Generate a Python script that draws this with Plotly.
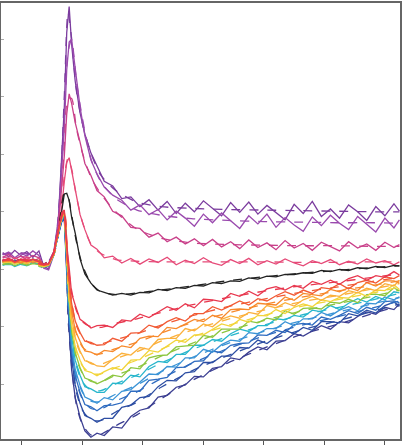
import plotly.graph_objects as go

# time axis of the measured traces (ps) and of the fitted curves
t = [-3.2, -2.2, -1.2, -0.2, 0.8, 1.8, 2.8, 3.6, 4.4, 5.2, 6.0, 6.6, 7.0, 7.4, 7.8, 8.2, 8.8,
     9.6, 10.4, 11.4, 12.4, 13.6, 15.0, 16.5, 18.0, 19.5, 21.0, 22.5, 24.0, 25.5, 27.0, 28.5,
     30.0, 31.5, 33.0, 34.5, 36.0, 37.5, 39.0, 40.5, 42.0, 43.5, 45.0, 46.5, 48.0, 49.5, 51.0,
     52.5, 54.0, 55.5, 57.0, 58.5, 60.0, 61.5, 62.4]
t_fit = [-3.2, 1.0, 3.6, 5.2, 6.2, 7.0, 7.6, 8.2, 9.0, 10.0, 11.4, 13.0, 15.5, 19.0, 23.0,
         28.0, 34.0, 40.0, 46.0, 52.0, 58.0, 62.4]

# measured traces
purple1 = [1.2, 0.5, 1.6, 0.7, 1.4, 0.4, 1.5, -1.2, -1.6, 0.9, 6.8, 17.5, 26.5, 39.5, 44.0, 37.5, 31.0, 25.5, 21.8, 18.5, 16.2,
           13.6, 12.8, 10.6, 10.9, 9.2, 10.4, 8.6, 10.1, 8.0, 9.8, 8.3, 10.2, 8.9, 7.6, 9.9, 8.2, 10.0, 7.9, 9.4, 8.1,
           6.9, 9.6, 8.0, 10.1, 7.5, 8.8, 7.2, 9.5, 8.3, 6.8, 9.2, 7.6, 9.7, 8.4]
purple2 = [0.8, 1.3, 0.3, 1.1, 0.6, 1.5, 0.7, -1.5, -1.8, 0.6, 6.0, 15.5, 23.0, 33.0, 37.8, 38.3, 33.0, 26.5, 21.5, 17.3, 14.9,
           12.6, 11.2, 10.3, 8.6, 9.5, 7.8, 8.7, 6.9, 8.4, 7.2, 5.8, 7.9, 6.4, 8.1, 6.7, 5.4, 7.6, 6.2, 7.9, 5.6,
           7.3, 6.0, 4.9, 7.4, 5.9, 7.7, 6.3, 5.2, 7.5, 6.1, 4.8, 7.2, 5.5, 6.9]
magenta = [0.4, 0.9, 0.1, 0.6, 0.0, 0.7, 0.3, -1.0, -1.2, 0.8, 5.6, 12.3, 18.0, 25.3, 28.8, 27.2, 23.8, 20.4, 16.7, 14.6, 12.0,
           10.9, 8.4, 7.6, 5.6, 5.4, 3.9, 4.6, 3.1, 3.9, 2.7, 3.6, 2.4, 3.5, 2.2, 3.1, 1.9, 3.4, 2.1, 2.9, 1.7,
           3.3, 2.0, 2.8, 1.6, 3.0, 2.2, 1.5, 3.1, 2.0, 2.7, 1.6, 3.0, 2.1, 2.6]
pink = [0.1, -0.4, 0.3, -0.2, 0.4, -0.3, 0.2, -1.0, -1.1, 0.9, 4.6, 9.4, 13.6, 16.9, 17.7, 15.4, 12.4, 7.8, 5.2, 2.5, 1.8,
        0.3, 0.6, -0.6, 0.2, -0.8, 0.1, -0.5, 0.4, -0.9, -0.1, -0.7, 0.3, -0.6, -1.0, 0.0, -0.7, 0.2, -0.9, -0.2, -0.8,
        0.1, -0.6, -1.1, -0.2, -0.7, 0.0, -0.9, -0.3, -0.8, 0.1, -0.6, -0.2, -0.9, -0.4]
black = [-0.2, 0.1, -0.3, 0.0, -0.4, -0.1, -0.2, -0.9, -0.9, 0.8, 4.5, 9.0, 11.4, 11.5, 10.3, 7.4, 4.6, 0.1, -2.5, -4.1, -5.3,
         -5.7, -6.2, -5.9, -6.2, -5.7, -5.8, -5.2, -5.4, -4.9, -5.0, -4.5, -4.6, -4.0, -4.2, -3.7, -3.8, -3.2, -3.4, -2.9, -3.0,
         -2.6, -2.6, -2.3, -2.4, -1.9, -2.1, -1.7, -1.9, -1.4, -1.6, -1.2, -1.4, -1.0, -1.1]
red = [-0.2, 0.2, -0.4, 0.1, -0.3, 0.0, -0.4, -0.9, -0.7, 1.0, 5.0, 8.2, 8.6, 2.6, -1.4, -5.9, -7.9, -10.4, -11.0, -11.9, -11.5,
       -11.4, -11.8, -10.5, -10.7, -9.5, -10.1, -9.1, -8.2, -8.8, -7.7, -8.4, -6.9, -7.0, -7.3, -5.9, -6.4, -5.5, -6.3, -5.1, -4.7,
       -5.3, -4.5, -5.0, -3.8, -4.3, -3.6, -4.3, -3.3, -2.8, -3.6, -2.8, -3.1, -2.1, -2.7]
orange_red = [-0.3, 0.1, -0.5, -0.1, -0.4, 0.1, -0.3, -1.0, -0.8, 0.9, 4.9, 8.0, 8.4, 1.7, -3.4, -7.6, -10.7, -12.7, -14.2, -14.4, -14.9,
              -14.8, -13.7, -14.2, -12.8, -12.7, -11.4, -11.9, -10.8, -10.1, -10.7, -9.4, -9.4, -8.2, -8.8, -8.0, -7.2, -7.9, -6.8, -7.2, -6.3,
              -5.6, -6.2, -5.3, -5.9, -4.9, -5.1, -4.2, -5.1, -4.0, -3.6, -4.1, -3.0, -3.3, -2.8]
orange = [-0.4, 0.0, -0.3, -0.6, -0.1, -0.5, -0.2, -1.0, -0.9, 0.8, 4.7, 7.9, 8.3, 1.1, -4.3, -8.8, -12.3, -14.2, -15.9, -16.1, -16.6,
          -15.8, -16.0, -15.0, -15.3, -13.7, -13.3, -13.4, -11.8, -12.0, -11.2, -10.4, -10.8, -9.7, -10.2, -8.7, -8.6, -8.7, -7.6, -7.8, -7.9,
          -6.5, -7.1, -5.9, -6.1, -6.3, -5.2, -5.6, -4.9, -5.4, -4.0, -4.6, -3.7, -3.7, -4.1]
light_orange = [-0.5, -0.1, -0.6, -0.2, -0.7, -0.3, -0.5, -1.1, -0.9, 0.8, 4.7, 7.8, 8.2, 0.5, -5.2, -10.1, -13.6, -15.9, -17.6, -17.9, -18.5,
                -18.6, -17.4, -16.3, -16.6, -15.3, -15.6, -13.9, -13.7, -13.7, -12.0, -12.4, -11.2, -11.7, -10.4, -9.8, -10.2, -9.2, -9.5, -8.0, -8.4,
                -7.5, -8.1, -7.0, -6.4, -7.1, -6.2, -6.4, -5.4, -5.8, -5.0, -5.4, -4.2, -4.6, -3.6]
yellow = [-0.6, -0.3, -0.8, -0.4, -0.7, -0.2, -0.6, -1.2, -1.0, 0.7, 4.6, 7.7, 8.1, -0.1, -6.1, -11.3, -15.1, -17.5, -19.3, -19.6, -20.2,
          -19.5, -18.8, -19.2, -17.5, -17.4, -15.8, -16.1, -15.0, -14.0, -14.4, -13.1, -13.1, -12.1, -11.2, -11.6, -10.4, -10.9, -9.7, -9.8, -8.7,
          -9.4, -8.3, -7.7, -8.2, -7.0, -7.3, -6.6, -6.7, -5.7, -6.4, -5.3, -5.4, -4.4, -5.2]
green = [-0.9, -0.5, -1.1, -0.6, -1.0, -0.7, -0.9, -1.3, -1.0, 0.7, 4.6, 7.6, 8.0, -0.6, -6.9, -12.3, -16.2, -18.8, -20.6, -21.0, -21.6,
         -21.0, -20.1, -20.4, -18.8, -19.0, -17.1, -16.7, -16.6, -15.2, -15.0, -14.9, -13.2, -13.5, -12.1, -12.1, -12.1, -10.7, -11.0, -10.2, -10.5,
         -8.9, -9.5, -8.5, -8.4, -8.6, -7.4, -7.6, -6.9, -7.5, -6.1, -6.0, -6.3, -4.9, -5.5]
cyan = [-1.0, -0.6, -1.2, -0.8, -1.1, -0.5, -0.9, -1.3, -1.1, 0.6, 4.5, 7.5, 7.9, -1.1, -7.7, -13.4, -17.5, -20.1, -22.1, -22.5, -23.1,
        -23.1, -21.5, -21.6, -20.1, -20.4, -18.6, -17.7, -17.9, -16.5, -16.5, -14.9, -14.9, -13.9, -14.2, -12.9, -12.1, -12.5, -11.5, -11.5, -10.3,
        -10.5, -9.7, -10.0, -8.8, -9.1, -8.0, -8.7, -7.6, -6.8, -7.4, -6.4, -7.0, -5.6, -5.8]
light_blue = [-0.6, -0.2, -0.8, -0.3, -0.7, -0.1, -0.5, -1.1, -0.9, 0.7, 4.4, 7.3, 7.7, -1.8, -8.7, -14.8, -19.1, -21.9, -23.9, -24.4, -25.0,
              -24.0, -24.4, -22.9, -22.6, -21.3, -19.9, -20.0, -18.6, -18.7, -17.1, -17.1, -15.6, -16.1, -14.8, -14.0, -14.2, -12.7, -12.9, -12.0, -12.0,
              -10.8, -11.5, -10.3, -10.3, -9.2, -9.8, -8.8, -8.2, -8.9, -7.6, -7.7, -6.5, -7.0, -6.5]
blue = [-0.4, 0.0, -0.6, -0.2, -0.5, 0.1, -0.4, -1.0, -0.9, 0.7, 4.3, 7.1, 7.5, -2.4, -9.5, -15.8, -20.2, -23.1, -25.2, -25.6, -26.3,
        -25.4, -25.3, -24.9, -22.9, -22.9, -21.0, -20.8, -20.5, -18.8, -18.7, -17.7, -17.6, -15.9, -16.2, -14.9, -14.6, -14.5, -13.1, -13.2, -12.3,
        -12.7, -11.3, -11.1, -11.4, -10.0, -10.4, -9.7, -8.9, -9.4, -8.3, -8.8, -7.3, -7.2, -7.5]
dark_blue = [-0.3, -0.7, -0.1, -0.5, -0.2, -0.6, -0.3, -1.0, -0.8, 0.8, 4.3, 6.9, 7.3, -3.1, -10.6, -17.2, -21.8, -25.0, -27.1, -27.6, -28.3,
             -27.6, -27.6, -25.7, -25.3, -24.0, -23.8, -22.1, -21.0, -21.1, -19.7, -19.5, -17.9, -17.9, -16.8, -16.8, -15.3, -15.4, -14.0, -14.6, -13.4,
             -12.3, -12.9, -11.8, -12.3, -10.8, -10.8, -11.0, -9.4, -9.8, -8.8, -9.3, -8.0, -7.4, -8.1]
indigo = [-0.3, 0.1, -0.5, -0.1, -0.4, 0.0, -0.3, -0.9, -0.8, 0.9, 4.2, 6.7, 7.1, -4.0, -12.0, -19.1, -24.0, -27.4, -29.8, -30.9, -30.2,
          -30.6, -29.1, -29.3, -27.3, -26.2, -25.8, -23.9, -23.6, -22.2, -21.8, -20.3, -20.4, -18.9, -18.6, -17.1, -17.4, -16.1, -15.2, -15.7, -14.2,
          -14.1, -12.9, -13.3, -12.4, -11.5, -12.1, -10.8, -11.0, -9.9, -9.1, -9.5, -8.3, -8.7, -7.7]

# fitted curves
purple1_fit = [1.0, 1.0, -1.2, 1.3, 10.5, 28.5, 43.0, 38.5, 29.3, 23.6, 18.5, 14.7, 12.0, 10.0, 9.2, 8.9, 8.7, 8.6, 8.5, 8.4, 8.3, 8.3]
purple2_fit = [0.9, 0.9, -1.5, 1.0, 9.5, 24.5, 36.0, 38.2, 31.0, 24.5, 17.5, 13.6, 10.6, 8.6, 7.7, 7.1, 6.8, 6.6, 6.5, 6.4, 6.4, 6.3]
magenta_fit = [0.4, 0.4, -1.0, 1.2, 8.5, 19.5, 28.0, 28.0, 22.8, 18.5, 14.3, 11.5, 8.3, 5.3, 3.7, 2.9, 2.6, 2.5, 2.4, 2.4, 2.3, 2.3]
pink_fit = [0.0, 0.0, -1.0, 1.2, 6.5, 14.5, 17.6, 15.8, 11.0, 6.5, 2.7, 1.1, 0.0, -0.3, -0.4, -0.4, -0.4, -0.4, -0.5, -0.5, -0.4, -0.4]
black_fit = [-0.2, -0.2, -0.9, 1.0, 6.5, 11.5, 11.0, 7.8, 3.1, -1.0, -4.1, -5.6, -6.1, -5.8, -5.3, -4.6, -3.7, -3.0, -2.4, -1.9, -1.4, -1.1]
red_fit = [-0.1, -0.1, -0.8, 1.0, 6.2, 8.6, -0.6, -5.3, -8.9, -10.8, -11.7, -11.8, -11.1, -10.3, -9.2, -7.9, -6.6, -5.5, -4.6, -3.9, -3.1, -2.5]
orange_red_fit = [-0.2, -0.2, -0.9, 0.9, 6.0, 8.4, -2.0, -7.3, -11.5, -13.5, -14.6, -14.7, -13.9, -12.9, -11.4, -9.8, -8.2, -6.9, -5.7, -4.8, -3.8, -3.1]
orange_fit = [-0.3, -0.3, -1.0, 0.8, 5.9, 8.3, -2.8, -8.5, -12.9, -15.2, -16.3, -16.4, -15.5, -14.4, -12.8, -11.0, -9.3, -7.8, -6.6, -5.5, -4.5, -3.7]
light_orange_fit = [-0.4, -0.4, -1.0, 0.8, 5.9, 8.2, -3.7, -9.8, -14.5, -16.9, -18.1, -18.2, -17.2, -16.0, -14.2, -12.3, -10.4, -8.8, -7.4, -6.3, -5.1, -4.2]
yellow_fit = [-0.5, -0.5, -1.1, 0.7, 5.8, 8.1, -4.5, -10.9, -16.0, -18.5, -19.8, -19.9, -18.8, -17.5, -15.6, -13.5, -11.5, -9.7, -8.2, -7.0, -5.8, -4.8]
green_fit = [-0.8, -0.8, -1.2, 0.7, 5.8, 8.0, -5.2, -11.9, -17.2, -19.8, -21.2, -21.3, -20.1, -18.8, -16.8, -14.6, -12.4, -10.6, -9.0, -7.7, -6.4, -5.3]
cyan_fit = [-0.9, -0.9, -1.2, 0.6, 5.7, 7.9, -5.9, -13.0, -18.5, -21.3, -22.7, -22.8, -21.6, -20.1, -18.0, -15.7, -13.4, -11.4, -9.7, -8.4, -7.0, -5.9]
light_blue_fit = [-0.4, -0.4, -1.0, 0.7, 5.6, 7.7, -6.9, -14.3, -20.2, -23.1, -24.6, -24.7, -23.4, -21.8, -19.5, -17.1, -14.6, -12.5, -10.7, -9.2, -7.7, -6.6]
blue_fit = [-0.3, -0.3, -0.9, 0.7, 5.5, 7.5, -7.6, -15.3, -21.3, -24.3, -25.9, -26.0, -24.6, -23.0, -20.7, -18.1, -15.5, -13.3, -11.5, -10.0, -8.4, -7.2]
dark_blue_fit = [-0.4, -0.4, -0.9, 0.8, 5.4, 7.3, -8.6, -16.7, -23.1, -26.2, -27.9, -28.0, -26.5, -24.8, -22.2, -19.4, -16.7, -14.3, -12.3, -10.7, -9.0, -7.7]
indigo_fit = [-0.2, -0.2, -0.8, 0.9, 5.3, 7.1, -9.9, -18.5, -25.3, -28.7, -30.5, -30.4, -28.9, -27.0, -24.2, -21.1, -18.0, -15.4, -13.1, -11.3, -9.4, -8.0]

series = [
    (purple1, purple1_fit, "#7b3c9e"),
    (purple2, purple2_fit, "#9a4aae"),
    (magenta, magenta_fit, "#c9408a"),
    (pink, pink_fit, "#e64a78"),
    (black, black_fit, "#222222"),
    (indigo, indigo_fit, "#3c3f92"),
    (dark_blue, dark_blue_fit, "#2d4ea3"),
    (blue, blue_fit, "#2f6cc0"),
    (light_blue, light_blue_fit, "#3b94d6"),
    (cyan, cyan_fit, "#28b6cc"),
    (green, green_fit, "#8cc63f"),
    (yellow, yellow_fit, "#f2d43a"),
    (light_orange, light_orange_fit, "#fbb03b"),
    (orange, orange_fit, "#f7892b"),
    (orange_red, orange_red_fit, "#f15a35"),
    (red, red_fit, "#e8384f"),
]

fig = go.Figure()
for y, yfit, color in series:
    fig.add_trace(go.Scatter(x=t, y=y, mode="lines", line=dict(color=color, width=1.3),
                             hoverinfo="skip", showlegend=False))
    fig.add_trace(go.Scatter(x=t_fit, y=yfit, mode="lines",
                             line=dict(color=color, width=1.3, dash="dash", shape="spline", smoothing=0.7),
                             hoverinfo="skip", showlegend=False))

fig.update_layout(
    width=405, height=445,
    margin=dict(l=1, r=5, t=2, b=5),
    paper_bgcolor="white", plot_bgcolor="white",
    showlegend=False,
)
fig.update_xaxes(range=[-3.47, 62.5], showgrid=False, zeroline=False, showline=True,
                 linecolor="#666666", linewidth=2, mirror=True, ticks="outside", ticklen=5,
                 tickcolor="#555555", tick0=0, dtick=10, showticklabels=False)
fig.update_yaxes(range=[-31.2, 44.6], showgrid=False, zeroline=False, showline=True,
                 linecolor="#666666", linewidth=2, mirror=True, ticks="inside", ticklen=3,
                 tickcolor="#aaaaaa", tick0=-1.7, dtick=10, showticklabels=False)

fig.write_html("out.html", config={"displayModeBar": False},
               post_script="document.body.style.margin='0';document.body.style.overflow='hidden';")
